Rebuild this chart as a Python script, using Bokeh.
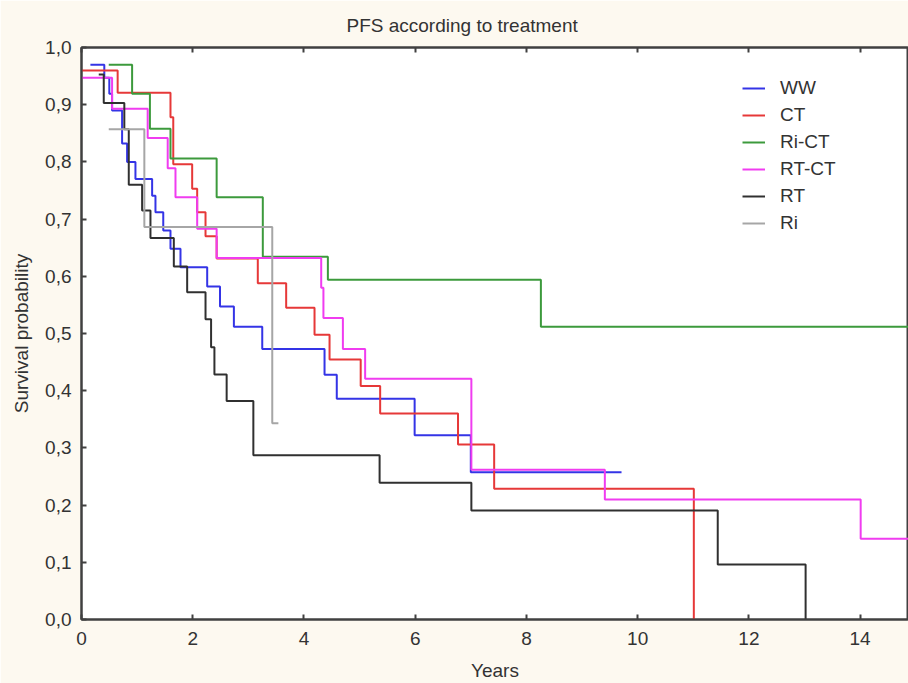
from bokeh.plotting import figure
from bokeh.models import Range1d, LinearAxis, FixedTicker, CustomJSTickFormatter, Legend, LegendItem
from bokeh.embed import file_html
from bokeh.resources import INLINE

# ---- data (step curves: time where survival changes, survival value after it) ----
ww_t = [0.16, 0.41, 0.50, 0.55, 0.73, 0.82, 0.97, 1.27, 1.33, 1.47, 1.60, 1.78, 2.26, 2.49, 2.74, 3.25, 4.37, 4.59, 5.99, 7.00, 9.71]
ww_s = [0.970, 0.947, 0.919, 0.890, 0.832, 0.800, 0.770, 0.741, 0.712, 0.680, 0.648, 0.616, 0.582, 0.547, 0.512, 0.473, 0.428, 0.386, 0.322, 0.2575, 0.2575]

ct_t = [0.0, 0.65, 1.60, 1.65, 1.99, 2.08, 2.23, 2.43, 3.17, 3.68, 4.19, 4.46, 5.02, 5.37, 6.77, 7.42, 11.01]
ct_s = [0.960, 0.921, 0.878, 0.796, 0.753, 0.712, 0.670, 0.631, 0.588, 0.545, 0.498, 0.4545, 0.408, 0.360, 0.306, 0.2285, 0.0]

rict_t = [0.49, 0.91, 1.23, 1.60, 2.43, 3.26, 4.43, 8.26, 14.87]
rict_s = [0.970, 0.919, 0.858, 0.806, 0.738, 0.634, 0.594, 0.512, 0.512]

rtct_t = [0.0, 0.55, 1.19, 1.55, 1.69, 2.08, 2.43, 4.31, 4.35, 4.70, 5.10, 7.01, 9.41, 14.01, 14.87]
rtct_s = [0.947, 0.893, 0.842, 0.789, 0.738, 0.683, 0.632, 0.580, 0.527, 0.473, 0.421, 0.262, 0.210, 0.141, 0.141]

rt_t = [0.31, 0.40, 0.77, 0.85, 1.09, 1.24, 1.66, 1.90, 2.23, 2.33, 2.39, 2.61, 3.09, 5.36, 7.01, 11.44, 13.02]
rt_s = [0.953, 0.903, 0.857, 0.760, 0.715, 0.667, 0.617, 0.572, 0.525, 0.476, 0.4285, 0.382, 0.287, 0.239, 0.1906, 0.0962, 0.0]

ri_t = [0.49, 1.13, 3.43, 3.54]
ri_s = [0.857, 0.686, 0.343, 0.343]

series_names = ["WW", "CT", "Ri-CT", "RT-CT", "RT", "Ri"]
series_colors = ["#3434E6", "#E63838", "#3C9A3C", "#F03CF0", "#303030", "#A6A6A6"]
x_ticks = [0, 2, 4, 6, 8, 10, 12, 14]
y_ticks = [0.0, 0.1, 0.2, 0.3, 0.4, 0.5, 0.6, 0.7, 0.8, 0.9, 1.0]

FONT = "Liberation Sans"
AX = "#404040"

p = figure(width=908, height=683, output_backend="svg", toolbar_location=None,
           x_range=Range1d(0, 14.87), y_range=Range1d(0, 1.0),
           min_border_left=81, min_border_right=0, min_border_top=47, min_border_bottom=64,
           background_fill_color="white", border_fill_color="#FDF9F0")
p.grid.visible = False
p.outline_line_color = AX
p.outline_line_width = 2

p.title.text = "PFS according to treatment"
p.title.text_font = FONT
p.title.text_font_size = "19px"
p.title.text_font_style = "normal"
p.title.text_color = "#333333"
p.title.align = "left"
p.title.offset = 265
p.title.standoff = 20
p.title.vertical_align = "top"

fmt = CustomJSTickFormatter(code="return tick.toFixed(1).replace('.', ',');")

for ax in (p.xaxis[0], p.yaxis[0]):
    ax.axis_line_color = AX
    ax.axis_line_width = 2
    ax.major_tick_line_color = AX
    ax.major_tick_line_width = 2
    ax.major_tick_in = 5
    ax.major_tick_out = 0
    ax.minor_tick_line_color = None
    ax.major_label_text_font = FONT
    ax.major_label_text_font_size = "19px"
    ax.major_label_text_color = "#333333"
    ax.axis_label_text_font = FONT
    ax.axis_label_text_font_size = "19px"
    ax.axis_label_text_font_style = "normal"
    ax.axis_label_text_color = "#333333"

p.xaxis[0].ticker = FixedTicker(ticks=x_ticks)
p.yaxis[0].ticker = FixedTicker(ticks=y_ticks)
p.yaxis[0].formatter = fmt
p.xaxis[0].axis_label = "Years"
p.yaxis[0].axis_label = "Survival probability"
p.xaxis[0].major_label_standoff = 12
p.yaxis[0].major_label_standoff = 10
p.xaxis[0].axis_label_standoff = 12
p.xaxis[0].axis_label_text_line_height = 0.9
p.yaxis[0].axis_label_standoff = 10

top = LinearAxis(ticker=FixedTicker(ticks=x_ticks),
                 formatter=CustomJSTickFormatter(code="return '';"),
                 axis_line_color=AX, axis_line_width=2, major_tick_line_color=AX,
                 major_tick_line_width=2, major_tick_in=5, major_tick_out=0,
                 minor_tick_line_color=None, major_label_standoff=0)
p.add_layout(top, "above")

data = [(ww_t, ww_s), (ct_t, ct_s), (rict_t, rict_s), (rtct_t, rtct_s), (rt_t, rt_s), (ri_t, ri_s)]
items = []
for (t, s), name, col in zip(data, series_names, series_colors):
    r = p.step(t, s, mode="after", line_color=col, line_width=2)
    items.append(LegendItem(label=name, renderers=[r]))

leg = Legend(items=items, location=(661, 384), padding=0, margin=0, spacing=3,
             label_height=24, glyph_height=24, glyph_width=23, label_standoff=15,
             label_text_font=FONT, label_text_font_size="19px", label_text_color="#333333",
             border_line_color=None, background_fill_alpha=0)
p.add_layout(leg, "center")

open("out.html", "w").write(file_html(p, INLINE))
